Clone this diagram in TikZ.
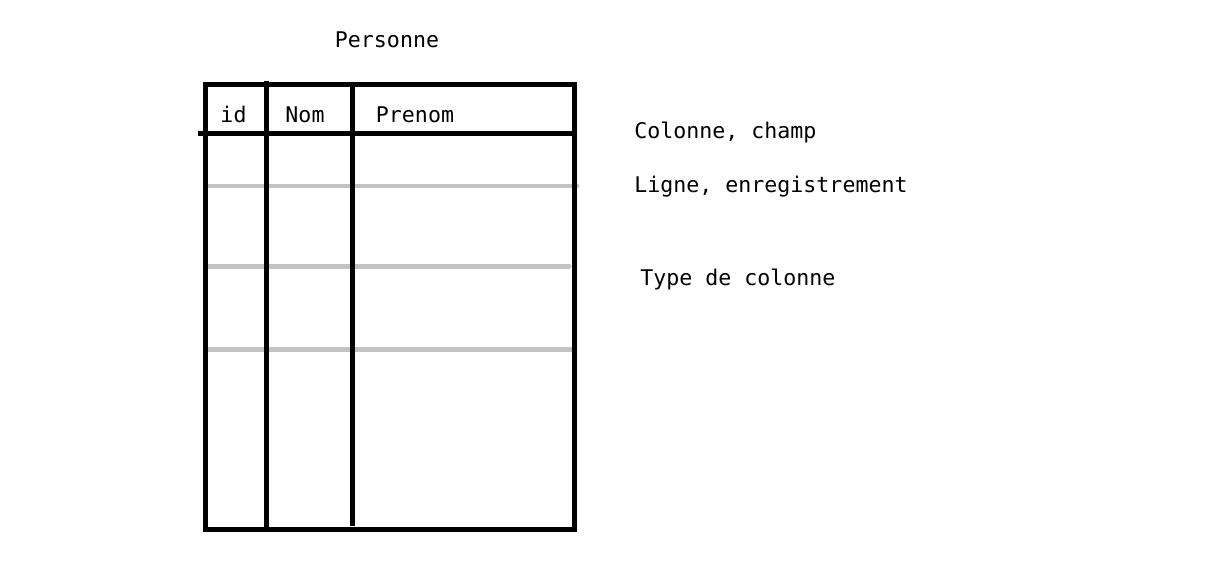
\documentclass[tikz,border=0pt]{standalone}
\usepackage{fontspec}
\setmonofont{DejaVu Sans Mono}
\usetikzlibrary{positioning}
\definecolor{rowgray}{HTML}{C3C3C3}
\tikzset{
  tabletxt/.style={font=\ttfamily\fontsize{12.3}{15}\selectfont,inner sep=0pt},
  frameline/.style={black,line width=0.1cm},
  rowline/.style={rowgray,line width=0.1cm,line cap=round}
}

\begin{document}
\begin{tikzpicture}[x=0.02cm,y=-0.02cm]

  % ---- Canvas ------------------------------------------------
  \useasboundingbox (0,0) rectangle (1218,588);
  \fill[white] (0,0) rectangle (1218,588);

  % ============================================================
  %  TABLE: Personne
  % ============================================================
  \node[tabletxt,anchor=base] (title) at (387,48) {Personne};

  % Row separators (records)
  \draw[rowline] (207,186) -- (577,186);
  \draw[rowline] (207,266) -- (569,266);
  \draw[rowline] (207,349) -- (573,349);

  % Outer frame
  \draw[frameline] (205,84.5) rectangle (574,529.5);
  % Header line
  \draw[frameline] (198,134) -- (577,134);
  % Column separators
  \draw[frameline] (266.5,81) -- (266.5,529.5);
  \draw[frameline] (352.5,84.5) -- (352.5,526);

  % Column headers
  \node[tabletxt,anchor=base] (colid)  at (233.5,123) {id};
  \node[tabletxt,anchor=base] (colnom) at (305,123) {Nom};
  \node[tabletxt,anchor=base] (colpre) at (415,123) {Prenom};

  % ============================================================
  %  RIGHT SIDE: notes
  % ============================================================
  \node[tabletxt,anchor=base west] (champ)  at (634,139) {Colonne, champ};
  \node[tabletxt,anchor=base west] (ligne)  at (634,193) {Ligne, enregistrement};
  \node[tabletxt,anchor=base west] (typcol) at (640,285) {Type de colonne};

\end{tikzpicture}
\end{document}
